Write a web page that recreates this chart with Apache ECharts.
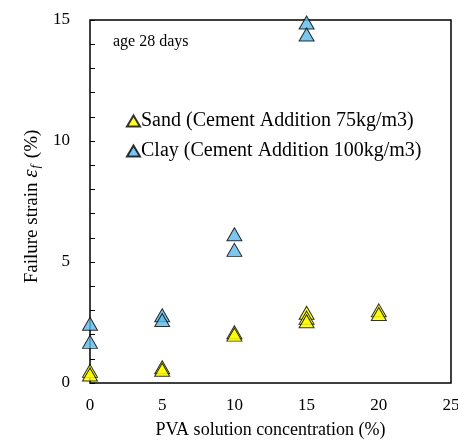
<!DOCTYPE html>
<html>
<head>
<meta charset="utf-8">
<script src="https://cdn.jsdelivr.net/npm/echarts@6/dist/echarts.min.js"></script>
<style>
  html, body { margin: 0; padding: 0; background: #fff; }
  #chart { width: 458px; height: 441px; }
</style>
</head>
<body>
<div id="chart"></div>
<script>
// PVA concentration (%) and failure strain (%) at 28 days
const sandX = [0, 0, 5, 5, 10, 10, 15, 15, 15, 20, 20];
const sandY = [0.5, 0.35, 0.65, 0.55, 2.1, 2.0, 2.9, 2.7, 2.55, 3.0, 2.85];
const clayX = [0, 0, 5, 5, 10, 10, 15, 15];
const clayY = [2.45, 1.7, 2.8, 2.6, 6.15, 5.5, 14.9, 14.4];
const xTicks = [0, 5, 10, 15, 20, 25];
const yTicks = [0, 5, 10, 15];

const sandName = 'Sand (Cement Addition 75kg/m3)';
const clayName = 'Clay (Cement Addition 100kg/m3)';
const serif = '"Liberation Serif", "Times New Roman", serif';

const pairs = (xs, ys) => xs.map((x, i) => [x, ys[i]]);

const chart = echarts.init(document.getElementById('chart'));
chart.setOption({
  animation: false,
  textStyle: { fontFamily: serif },
  grid: {
    left: 90, right: 7, top: 20, bottom: 58,
    outerBoundsMode: 'none', containLabel: false,
    show: true, borderColor: '#000', borderWidth: 1.5, backgroundColor: 'transparent'
  },
  legend: {
    orient: 'vertical',
    left: 121, top: 106,
    itemGap: 10,
    itemWidth: 13, itemHeight: 11,
    textStyle: { fontFamily: serif, fontSize: 20, color: '#000', padding: [0, 0, 0, -4] },
    data: [sandName, clayName]
  },
  graphic: [{
    type: 'text', left: 113, top: 34,
    style: { text: 'age 28 days', font: '16px ' + serif, fill: '#000' }
  }],
  xAxis: {
    type: 'value', min: xTicks[0], max: xTicks[xTicks.length - 1], interval: 5,
    name: 'PVA solution concentration (%)', nameLocation: 'middle', nameGap: 38,
    nameTextStyle: { fontFamily: serif, fontSize: 18, color: '#000' },
    axisLine: { show: false },
    axisTick: { show: false },
    splitLine: { show: false },
    axisLabel: { fontFamily: serif, fontSize: 17, color: '#000', margin: 14 }
  },
  yAxis: {
    type: 'value', min: yTicks[0], max: yTicks[yTicks.length - 1], interval: 5,
    name: '{n|Failure strain }{e|ε}{s|f}{n| (%)}', nameLocation: 'middle', nameGap: 47,
    nameTextStyle: {
      padding: [0, 10, 0, 0],
      rich: {
        n: { fontFamily: serif, fontSize: 19, color: '#000' },
        e: { fontFamily: serif, fontSize: 21, fontStyle: 'italic', color: '#000', padding: [0, 1, 0, 0] },
        s: { fontFamily: serif, fontSize: 13, fontStyle: 'italic', color: '#000', verticalAlign: 'bottom', padding: [8, 2, 0, 0] }
      }
    },
    axisLine: { show: false },
    axisTick: { show: true, inside: true, length: 5, lineStyle: { color: '#000', width: 1 } },
    minorTick: { show: true, splitNumber: 5, length: 5, lineStyle: { color: '#000', width: 1 } },
    splitLine: { show: false },
    axisLabel: { fontFamily: serif, fontSize: 17, color: '#000', margin: 20 }
  },
  series: [
    {
      name: sandName, type: 'scatter', symbol: 'triangle', symbolSize: [15, 13], clip: false,
      itemStyle: { color: '#FFFF00', borderColor: '#000', borderWidth: 1 },
      data: pairs(sandX, sandY)
    },
    {
      name: clayName, type: 'scatter', symbol: 'triangle', symbolSize: [15, 13], clip: false,
      itemStyle: { color: '#5BB9EA', borderColor: '#000', borderWidth: 1 },
      data: pairs(clayX, clayY)
    }
  ]
});
</script>
</body>
</html>
